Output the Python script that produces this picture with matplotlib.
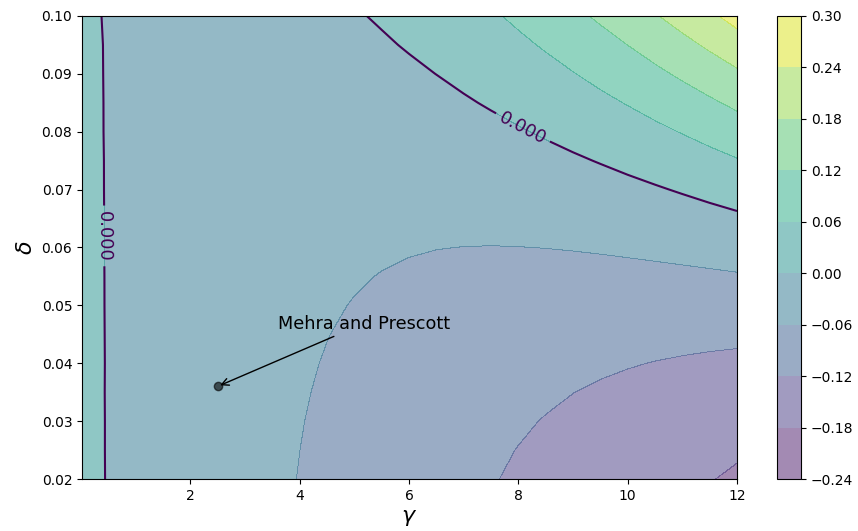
import matplotlib
matplotlib.use("Agg")
import matplotlib.pyplot as plt
import numpy as np

# grid
gamma_vals = [0.02, 1, 2, 3, 3.5, 4, 4.5, 5, 5.5, 6, 6.5, 7, 7.5, 8, 8.5,
              9, 9.5, 10, 10.5, 11, 11.5, 12]
delta_vals = [0.020, 0.025, 0.030, 0.035, 0.040, 0.045, 0.050, 0.055, 0.060,
              0.065, 0.070, 0.075, 0.080, 0.085, 0.090, 0.095, 0.100]

# one row per delta value, one column per gamma value
z_vals = [
    [0.0074, -0.0098, -0.0271, -0.0442, -0.0526, -0.0610, -0.0693, -0.0775, -0.0856, -0.0937, -0.1017, -0.1097, -0.1176, -0.1254, -0.1332, -0.1409, -0.1485, -0.1561, -0.1636, -0.1710, -0.1784, -0.1857],
    [0.0073, -0.0098, -0.0269, -0.0436, -0.0518, -0.0599, -0.0679, -0.0758, -0.0836, -0.0912, -0.0988, -0.1062, -0.1136, -0.1209, -0.1281, -0.1351, -0.1421, -0.1489, -0.1557, -0.1623, -0.1689, -0.1753],
    [0.0073, -0.0098, -0.0266, -0.0429, -0.0508, -0.0586, -0.0662, -0.0736, -0.0809, -0.0881, -0.0951, -0.1020, -0.1087, -0.1153, -0.1217, -0.1280, -0.1341, -0.1401, -0.1459, -0.1516, -0.1571, -0.1625],
    [0.0072, -0.0098, -0.0263, -0.0421, -0.0497, -0.0570, -0.0642, -0.0711, -0.0779, -0.0845, -0.0909, -0.0970, -0.1030, -0.1087, -0.1143, -0.1196, -0.1248, -0.1297, -0.1345, -0.1390, -0.1433, -0.1474],
    [0.0072, -0.0097, -0.0260, -0.0411, -0.0483, -0.0552, -0.0619, -0.0683, -0.0744, -0.0802, -0.0858, -0.0912, -0.0962, -0.1010, -0.1056, -0.1099, -0.1139, -0.1176, -0.1211, -0.1243, -0.1273, -0.1300],
    [0.0071, -0.0097, -0.0255, -0.0400, -0.0468, -0.0532, -0.0593, -0.0650, -0.0704, -0.0755, -0.0802, -0.0846, -0.0887, -0.0924, -0.0958, -0.0989, -0.1016, -0.1040, -0.1061, -0.1078, -0.1092, -0.1103],
    [0.0070, -0.0097, -0.0251, -0.0388, -0.0451, -0.0509, -0.0563, -0.0613, -0.0659, -0.0701, -0.0739, -0.0773, -0.0803, -0.0828, -0.0849, -0.0866, -0.0879, -0.0888, -0.0893, -0.0893, -0.0890, -0.0882],
    [0.0069, -0.0096, -0.0245, -0.0375, -0.0432, -0.0484, -0.0531, -0.0573, -0.0610, -0.0642, -0.0670, -0.0692, -0.0709, -0.0721, -0.0728, -0.0730, -0.0728, -0.0720, -0.0707, -0.0689, -0.0667, -0.0639],
    [0.0068, -0.0096, -0.0240, -0.0360, -0.0411, -0.0456, -0.0496, -0.0529, -0.0557, -0.0578, -0.0594, -0.0603, -0.0607, -0.0604, -0.0596, -0.0582, -0.0562, -0.0535, -0.0503, -0.0465, -0.0422, -0.0372],
    [0.0067, -0.0095, -0.0234, -0.0344, -0.0389, -0.0426, -0.0457, -0.0481, -0.0498, -0.0508, -0.0511, -0.0506, -0.0495, -0.0477, -0.0452, -0.0420, -0.0381, -0.0335, -0.0283, -0.0223, -0.0156, -0.0082],
    [0.0066, -0.0095, -0.0227, -0.0327, -0.0365, -0.0394, -0.0416, -0.0429, -0.0435, -0.0432, -0.0421, -0.0402, -0.0375, -0.0340, -0.0297, -0.0245, -0.0186, -0.0119, -0.0044, 0.0040, 0.0132, 0.0232],
    [0.0065, -0.0094, -0.0220, -0.0308, -0.0338, -0.0359, -0.0371, -0.0373, -0.0366, -0.0350, -0.0325, -0.0290, -0.0246, -0.0193, -0.0130, -0.0058, 0.0023, 0.0113, 0.0213, 0.0322, 0.0440, 0.0568],
    [0.0063, -0.0094, -0.0212, -0.0288, -0.0310, -0.0322, -0.0323, -0.0314, -0.0294, -0.0263, -0.0222, -0.0170, -0.0108, -0.0035, 0.0048, 0.0142, 0.0247, 0.0362, 0.0488, 0.0624, 0.0771, 0.0928],
    [0.0062, -0.0093, -0.0204, -0.0267, -0.0281, -0.0283, -0.0273, -0.0250, -0.0216, -0.0170, -0.0113, -0.0043, 0.0039, 0.0132, 0.0238, 0.0355, 0.0485, 0.0626, 0.0779, 0.0944, 0.1121, 0.1310],
    [0.0060, -0.0092, -0.0195, -0.0245, -0.0250, -0.0241, -0.0219, -0.0183, -0.0134, -0.0072, 0.0003, 0.0092, 0.0194, 0.0310, 0.0439, 0.0582, 0.0738, 0.0907, 0.1089, 0.1285, 0.1494, 0.1717],
    [0.0059, -0.0092, -0.0186, -0.0221, -0.0216, -0.0196, -0.0162, -0.0112, -0.0048, 0.0032, 0.0126, 0.0235, 0.0359, 0.0498, 0.0652, 0.0821, 0.1005, 0.1203, 0.1416, 0.1644, 0.1888, 0.2146],
    [0.0052, -0.0091, -0.0177, -0.0196, -0.0181, -0.0150, -0.0102, -0.0037, 0.0044, 0.0142, 0.0256, 0.0386, 0.0533, 0.0697, 0.0877, 0.1073, 0.1286, 0.1516, 0.1762, 0.2024, 0.2303, 0.2599],
]
fill_levels = [-0.24, -0.18, -0.12, -0.06, 0.0, 0.06, 0.12, 0.18, 0.24, 0.30]

mp_gamma, mp_delta = 2.5, 0.036

fig = plt.figure(figsize=(8.58, 5.31), dpi=100)
ax = fig.add_axes([0.0956, 0.0979, 0.7634, 0.872])
cax = fig.add_axes([0.9056, 0.0979, 0.028, 0.872])

G, D = np.meshgrid(gamma_vals, delta_vals)
Z = np.array(z_vals)

cs1 = ax.contourf(G, D, Z, levels=fill_levels, cmap='viridis', alpha=0.5)
ctr1 = ax.contour(G, D, Z, levels=[0.0], cmap='viridis')
ax.clabel(ctr1, inline=1, fontsize=13, fmt='%1.3f',
          manual=[(0.4, 0.062), (8.1, 0.081)])
fig.colorbar(cs1, cax=cax)

ax.annotate("Mehra and Prescott", xy=(mp_gamma, mp_delta), xytext=(3.6, 0.046),
            fontsize=12.7, arrowprops=dict(arrowstyle="->", color='black'))
ax.plot(mp_gamma, mp_delta, 'ko', alpha=0.6, markersize=6)

ax.set_xlim(0.02, 12)
ax.set_ylim(0.02, 0.10)
ax.set_xlabel(r"$\gamma$", fontsize=16)
ax.set_ylabel(r"$\delta$", fontsize=16)

plt.savefig("out.png")
